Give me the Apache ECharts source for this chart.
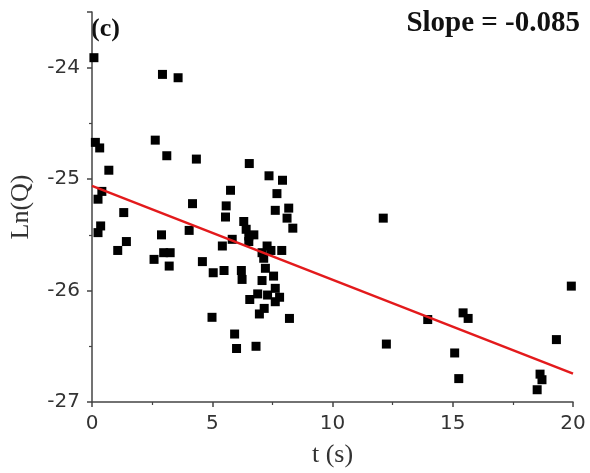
<!DOCTYPE html>
<html>
<head>
<meta charset="utf-8">
<script src="https://cdn.jsdelivr.net/npm/echarts@6/dist/echarts.min.js"></script>
<style>
  html, body { margin: 0; padding: 0; background: #fff; }
  #chart { width: 590px; height: 473px; }
</style>
</head>
<body>
<div id="chart"></div>
<script>
// measured points, [t (s), Ln(Q)]
var points = [
    [0.08, -23.91], [2.93, -24.06], [3.58, -24.09],
    [0.14, -24.67], [0.32, -24.72], [2.63, -24.65], [3.11, -24.79], [4.34, -24.82],
    [0.70, -24.92], [0.41, -25.11], [0.25, -25.18], [1.32, -25.30], [4.18, -25.22],
    [0.36, -25.42], [0.25, -25.48], [2.89, -25.50], [4.04, -25.46], [1.43, -25.56],
    [1.07, -25.64], [2.98, -25.66], [3.25, -25.66], [2.58, -25.72], [3.21, -25.78],
    [4.59, -25.74], [5.04, -25.84], [4.99, -26.24],
    [6.54, -24.86], [7.36, -24.97], [7.92, -25.01], [5.76, -25.10], [7.69, -25.13],
    [5.58, -25.24], [7.62, -25.28], [8.18, -25.26], [5.55, -25.34], [8.11, -25.35],
    [6.31, -25.38], [6.41, -25.45], [8.35, -25.44], [6.52, -25.51], [6.73, -25.50],
    [5.83, -25.54], [5.42, -25.60], [7.28, -25.60], [6.52, -25.56],
    [7.44, -25.64], [7.89, -25.64], [7.07, -25.66], [7.14, -25.71],
    [5.49, -25.82], [6.21, -25.82], [6.24, -25.90], [7.21, -25.80], [7.55, -25.87],
    [7.07, -25.91], [7.62, -25.98], [6.89, -26.03], [7.30, -26.04], [6.56, -26.08],
    [7.80, -26.06], [7.62, -26.10], [7.16, -26.16], [6.96, -26.21], [8.21, -26.25],
    [5.93, -26.39], [6.01, -26.52], [6.82, -26.50],
    [12.11, -25.35], [12.24, -26.48], [13.96, -26.26], [15.43, -26.20], [15.64, -26.25],
    [15.08, -26.56], [15.25, -26.79], [19.93, -25.96], [19.31, -26.44],
    [18.63, -26.75], [18.71, -26.80], [18.51, -26.89]
];

// linear fit end points
var fitLine = [[0, -25.06], [20, -26.746]];

var xTicks = [0, 5, 10, 15, 20];
var yTicks = [-27, -26, -25, -24];
var slopeText = 'Slope = -0.085';
var panelText = '(c)';

var myChart = echarts.init(document.getElementById('chart'), null, { renderer: 'canvas' });

var axisColor = '#444';
var option = {
    animation: false,
    backgroundColor: '#fff',
    grid: { left: 89, right: 17, top: 12, bottom: 70, containLabel: false },
    xAxis: {
        type: 'value',
        min: xTicks[0],
        max: xTicks[xTicks.length - 1],
        interval: 5,
        name: 't (s)',
        nameLocation: 'middle',
        nameGap: 40,
        nameTextStyle: { fontFamily: 'Liberation Serif', fontSize: 26, color: '#333' },
        axisLine: { show: true, onZero: false, lineStyle: { color: axisColor, width: 1.5 } },
        axisTick: { show: true, inside: false, length: 5, lineStyle: { color: axisColor, width: 1.5 } },
        minorTick: { show: true, splitNumber: 2, length: 3, lineStyle: { color: axisColor, width: 1.2 } },
        axisLabel: { fontFamily: 'DejaVu Sans', fontSize: 20, color: '#333', margin: 12 },
        splitLine: { show: false }
    },
    yAxis: {
        type: 'value',
        min: yTicks[0],
        max: -23.5,
        interval: 1,
        name: 'Ln(Q)',
        nameLocation: 'middle',
        nameGap: 58,
        nameTextStyle: { fontFamily: 'Liberation Serif', fontSize: 26, color: '#333' },
        axisLine: { show: true, onZero: false, lineStyle: { color: axisColor, width: 1.5 } },
        axisTick: { show: true, inside: false, length: 5, lineStyle: { color: axisColor, width: 1.5 } },
        minorTick: { show: true, splitNumber: 2, length: 3, lineStyle: { color: axisColor, width: 1.2 } },
        axisLabel: {
            fontFamily: 'DejaVu Sans', fontSize: 20, color: '#333', margin: 12,
            formatter: function (v) { return yTicks.indexOf(v) >= 0 ? String(v) : ''; }
        },
        splitLine: { show: false }
    },
    graphic: [{
        type: 'text',
        left: 91,
        top: 16,
        style: { text: panelText, font: 'bold 26px "Liberation Serif"', fill: '#111' }
    }, {
        type: 'text',
        right: 10,
        top: 9,
        style: { text: slopeText, font: 'bold 29px "Liberation Serif"', fill: '#111' }
    }],
    series: [{
        type: 'scatter',
        data: points,
        symbol: 'rect',
        symbolSize: 9,
        itemStyle: { color: '#000', opacity: 1 },
        z: 2
    }, {
        type: 'line',
        data: fitLine,
        symbol: 'none',
        lineStyle: { color: '#e31a1c', width: 2.5 },
        z: 3
    }]
};

myChart.setOption(option, true);
</script>
</body>
</html>
